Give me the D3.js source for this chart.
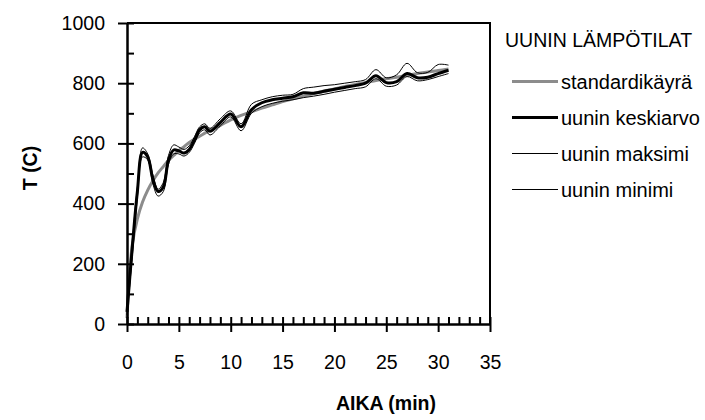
<!DOCTYPE html>
<html>
<head>
<meta charset="utf-8">
<script src="https://cdn.jsdelivr.net/npm/d3@7"></script>
<style>
  body { margin: 0; background: #fff; }
  svg { font-family: "Liberation Sans", Arial, sans-serif; }
</style>
</head>
<body>
<svg width="705" height="420"></svg>
<script>
// time points (min)
var aika = [0, 0.5, 1, 1.5, 2, 2.5, 3, 3.5, 4, 4.5, 5, 5.5, 6, 6.5, 7, 7.5, 8, 9, 10, 11, 12, 13, 14, 15, 16, 17, 18, 19, 20, 21, 22, 23, 24, 25, 26, 27, 28, 29, 30, 31];

var standardi = [20, 261, 349, 405, 445, 476, 502, 523, 544, 560, 576, 589, 603, 614, 624, 634, 644, 660, 678, 693, 705, 717, 728, 739, 748, 757, 766, 774, 781, 789, 796, 802, 809, 815, 820, 826, 832, 837, 842, 847];
var keskiarvo = [40, 250, 440, 570, 555, 480, 440, 455, 545, 578, 575, 568, 580, 610, 645, 655, 640, 670, 698, 655, 712, 735, 745, 750, 755, 768, 767, 773, 780, 786, 792, 800, 825, 802, 805, 832, 818, 820, 832, 843];
var maksimi = [50, 265, 455, 585, 565, 495, 448, 470, 560, 595, 588, 580, 592, 622, 655, 665, 650, 682, 708, 665, 730, 745, 755, 760, 763, 782, 787, 792, 795, 800, 805, 812, 845, 818, 828, 866, 835, 836, 862, 860];
var minimi = [30, 220, 420, 555, 545, 465, 425, 440, 530, 565, 565, 558, 570, 600, 635, 645, 628, 658, 688, 642, 700, 722, 733, 740, 745, 752, 757, 763, 770, 776, 782, 788, 815, 790, 794, 822, 808, 812, 822, 832];

var xTicks = [0, 5, 10, 15, 20, 25, 30, 35];
var yTicks = [0, 200, 400, 600, 800, 1000];

var legendTitle = "UUNIN LÄMPÖTILAT";
var sarjat = [
  {name: "standardikäyrä", values: standardi, color: "#8c8c8c", width: 3},
  {name: "uunin keskiarvo", values: keskiarvo, color: "#000", width: 3},
  {name: "uunin maksimi", values: maksimi, color: "#000", width: 1},
  {name: "uunin minimi", values: minimi, color: "#000", width: 1}
];

var svg = d3.select("svg");
var fs = 19.5;

var x = d3.scaleLinear().domain([0, 35]).range([127, 490]);
var y = d3.scaleLinear().domain([0, 1000]).range([324, 23]);

// series (gray first, then thin ones, thick mean on top)
var line = d3.line()
    .x(function (d) { return x(d[0]); })
    .y(function (d) { return y(d[1]); })
    .curve(d3.curveCatmullRom.alpha(0.5));

var order = [0, 2, 3, 1];
order.forEach(function (i) {
    var s = sarjat[i];
    svg.append("path")
        .datum(aika.map(function (t, k) { return [t, s.values[k]]; }))
        .attr("fill", "none")
        .attr("stroke", s.color)
        .attr("stroke-width", s.width)
        .attr("stroke-linejoin", "round")
        .attr("d", line);
});

// frame top & right
svg.append("path")
    .attr("d", "M" + x(0) + "," + y(1000) + "H" + x(35) + "V" + y(0))
    .attr("fill", "none").attr("stroke", "#000").attr("stroke-width", 2);

// x axis: labels + outward major ticks
var gx = svg.append("g").attr("transform", "translate(0," + y(0) + ")");
gx.call(d3.axisBottom(x).tickValues(xTicks).tickSize(8).tickPadding(23).tickSizeOuter(0));
// inward ticks every minute
svg.append("g").attr("transform", "translate(0," + y(0) + ")")
    .call(d3.axisBottom(x).tickValues(d3.range(0, 36, 1)).tickSize(-7).tickSizeOuter(0).tickFormat(""));

var gy = svg.append("g").attr("transform", "translate(" + x(0) + ",0)");
gy.call(d3.axisLeft(y).tickValues(yTicks).tickSize(9).tickPadding(13).tickSizeOuter(0).tickFormat(d3.format("d")));
svg.append("g").attr("transform", "translate(" + x(0) + ",0)")
    .call(d3.axisLeft(y).tickValues(d3.range(0, 1001, 100)).tickSize(-7).tickSizeOuter(0).tickFormat(""));

svg.selectAll(".domain").attr("stroke-width", 2);
svg.selectAll(".tick line").attr("stroke-width", 2);
svg.selectAll(".tick text")
    .attr("font-size", fs)
    .attr("font-family", "Liberation Sans, Arial, sans-serif")
    .attr("fill", "#000");

// axis titles
svg.append("text")
    .attr("x", 386).attr("y", 410)
    .attr("text-anchor", "middle")
    .attr("font-size", fs).attr("font-weight", "bold")
    .text("AIKA (min)");

svg.append("text")
    .attr("transform", "translate(37,168) rotate(-90)")
    .attr("text-anchor", "middle")
    .attr("font-size", fs).attr("font-weight", "bold")
    .text("T (C)");

// legend
svg.append("text")
    .attr("x", 505).attr("y", 47)
    .attr("font-size", fs)
    .text(legendTitle);

var leg = svg.append("g").selectAll("g")
    .data(sarjat)
    .enter().append("g")
    .attr("transform", function (d, i) { return "translate(0," + (81.5 + i * 36) + ")"; });

leg.append("line")
    .attr("x1", 512).attr("x2", 558)
    .attr("stroke", function (d) { return d.color; })
    .attr("stroke-width", function (d) { return d.width; });

leg.append("text")
    .attr("x", 561).attr("y", 7)
    .attr("font-size", 20)
    .text(function (d) { return d.name; });
</script>
</body>
</html>
